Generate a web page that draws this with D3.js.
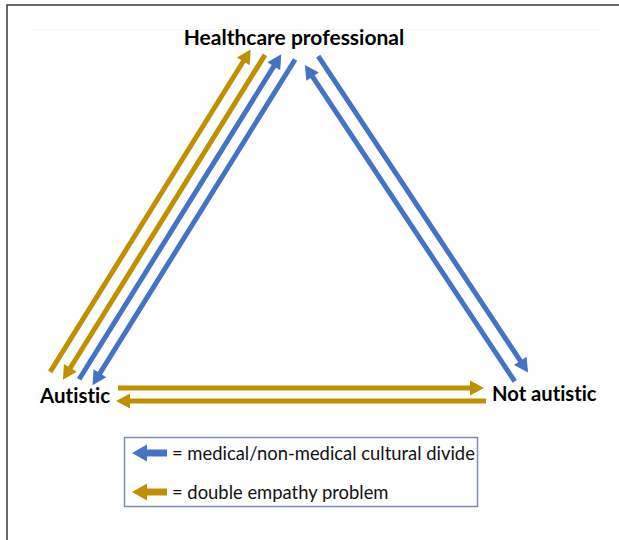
<!DOCTYPE html>
<html>
<head>
<meta charset="utf-8">
<script src="https://cdn.jsdelivr.net/npm/d3@7"></script>
<style>
  html, body { margin: 0; padding: 0; background: #fff; }
  svg { display: block; }
  text { font-variant-ligatures: none; font-feature-settings: "liga" 0; }
  .node-label { font-family: Lato, "Liberation Sans", sans-serif; font-weight: bold; fill: #000; }
  .legend-label { font-family: Lato, "Liberation Sans", sans-serif; fill: #111; }
</style>
</head>
<body>
<div id="chart"></div>
<script>
// nodes of the triangle
const nodes = ["Healthcare professional", "Autistic", "Not autistic"];

// arrows: source -> target, and which problem they stand for
const edgeSource = ["Autistic", "Healthcare professional", "Autistic", "Healthcare professional",
                    "Not autistic", "Healthcare professional", "Autistic", "Not autistic"];
const edgeTarget = ["Healthcare professional", "Autistic", "Healthcare professional", "Autistic",
                    "Healthcare professional", "Not autistic", "Not autistic", "Autistic"];
const edgeKind = ["empathy", "empathy", "divide", "divide", "divide", "divide", "empathy", "empathy"];

// legend
const kinds = ["divide", "empathy"];
const kindLabels = ["= medical/non-medical cultural divide", "= double empathy problem"];

const width = 619,
    height = 540,
    colors = d3.scaleOrdinal().domain(kinds).range(["#4472C4", "#BF9000"]),
    x = d3.scaleLinear().domain([0, 1]).range([62, 533]),
    y = d3.scaleLinear().domain([0, 1]).range([28, 394.5]);

// where each node sits in the unit triangle, and how its label is placed
const layout = {
    "Healthcare professional": { u: 0.484, v: 0, dx: 4, dy: 17, anchor: "middle", size: 21 },
    "Autistic": { u: 0, v: 1, dx: -22, dy: 8.5, anchor: "start", size: 20.5 },
    "Not autistic": { u: 1, v: 1, dx: -41, dy: 6.5, anchor: "start", size: 20.2 }
};

// each side: base direction a -> b, lanes with perpendicular offset and trims from both ends
const sides = [
    { a: "Autistic", b: "Healthcare professional",
      lanes: [{ off: -22, s: 13, e: 39 }, { off: -7, s: 13, e: 36 }, { off: 6.5, s: 22, e: 27 }, { off: 21, s: 24, e: 24 }] },
    { a: "Healthcare professional", b: "Not autistic",
      lanes: [{ off: 8, s: 39, e: 21 }, { off: -8, s: 39, e: 21 }] },
    { a: "Autistic", b: "Not autistic",
      lanes: [{ off: -6.5, s: 56, e: 49 }, { off: 6.5, s: 54, e: 47 }] }
];

const pos = name => [x(layout[name].u), y(layout[name].v)];

const svg = d3.select('#chart').append('svg')
    .attr('width', width)
    .attr('height', height);

// frame
svg.append('path')
    .attr('d', `M7,${height} L7,5 L${width},5`)
    .attr('fill', 'none')
    .attr('stroke', '#3a3a3a')
    .attr('stroke-width', 1.5);
svg.append('line')
    .attr('x1', 30).attr('x2', 600).attr('y1', 29.5).attr('y2', 29.5)
    .attr('stroke', '#f5f5f5');

const arrowPath = (p0, p1, headLen, headHalf) => {
    const dx = p1[0] - p0[0], dy = p1[1] - p0[1],
        len = Math.hypot(dx, dy),
        ux = dx / len, uy = dy / len,
        bx = p1[0] - ux * headLen, by = p1[1] - uy * headLen;
    return {
        shaft: `M${p0[0]},${p0[1]} L${bx + ux},${by + uy}`,
        head: `M${p1[0]},${p1[1]} L${bx - uy * headHalf},${by + ux * headHalf} L${bx + uy * headHalf},${by - ux * headHalf} Z`
    };
};

// work out the geometry of every arrow
let used = sides.map(() => 0);
const arrows = edgeSource.map((src, i) => {
    const tgt = edgeTarget[i];
    const si = sides.findIndex(s => (s.a == src && s.b == tgt) || (s.a == tgt && s.b == src));
    const side = sides[si],
        lane = side.lanes[used[si]++],
        A = pos(side.a), B = pos(side.b),
        L = Math.hypot(B[0] - A[0], B[1] - A[1]),
        ux = (B[0] - A[0]) / L, uy = (B[1] - A[1]) / L,
        nx = -uy, ny = ux;
    let p0 = [A[0] + ux * lane.s + nx * lane.off, A[1] + uy * lane.s + ny * lane.off],
        p1 = [A[0] + ux * (L - lane.e) + nx * lane.off, A[1] + uy * (L - lane.e) + ny * lane.off];
    if (side.a != src) { [p0, p1] = [p1, p0]; }
    return { kind: edgeKind[i], p: arrowPath(p0, p1, 14, 7.5) };
});

const g = svg.append('g').attr('class', 'arrows');
const arrow = g.selectAll('g')
    .data(arrows)
    .enter()
    .append('g');
arrow.append('path')
    .attr('d', d => d.p.shaft)
    .attr('stroke', d => colors(d.kind))
    .attr('stroke-width', 5)
    .attr('fill', 'none');
arrow.append('path')
    .attr('d', d => d.p.head)
    .attr('fill', d => colors(d.kind));

// node labels
svg.selectAll('.node-label')
    .data(nodes)
    .enter()
    .append('text')
    .attr('class', 'node-label')
    .attr('x', d => pos(d)[0] + layout[d].dx)
    .attr('y', d => pos(d)[1] + layout[d].dy)
    .attr('text-anchor', d => layout[d].anchor)
    .attr('font-size', d => layout[d].size)
    .text(d => d);

// legend
const legend = svg.append('g').attr('class', 'legend');
legend.append('rect')
    .attr('x', 124.5).attr('y', 437.5)
    .attr('width', 353).attr('height', 69)
    .attr('fill', '#fff')
    .attr('stroke', '#7d8db0')
    .attr('stroke-width', 1.5);

const item = legend.selectAll('.legend-item')
    .data(kinds)
    .enter()
    .append('g')
    .attr('class', 'legend-item')
    .attr('transform', (d, i) => `translate(0,${453 + i * 39})`);
item.each(function (d) {
    const p = arrowPath([167, 0], [132, 0], 15, 8.5);
    d3.select(this).append('path')
        .attr('d', p.shaft)
        .attr('stroke', colors(d))
        .attr('stroke-width', 7);
    d3.select(this).append('path')
        .attr('d', p.head)
        .attr('fill', colors(d));
});
item.append('text')
    .attr('class', 'legend-label')
    .attr('x', 172)
    .attr('y', 6.5)
    .attr('font-size', 18.4)
    .text((d, i) => kindLabels[i]);
</script>
</body>
</html>
